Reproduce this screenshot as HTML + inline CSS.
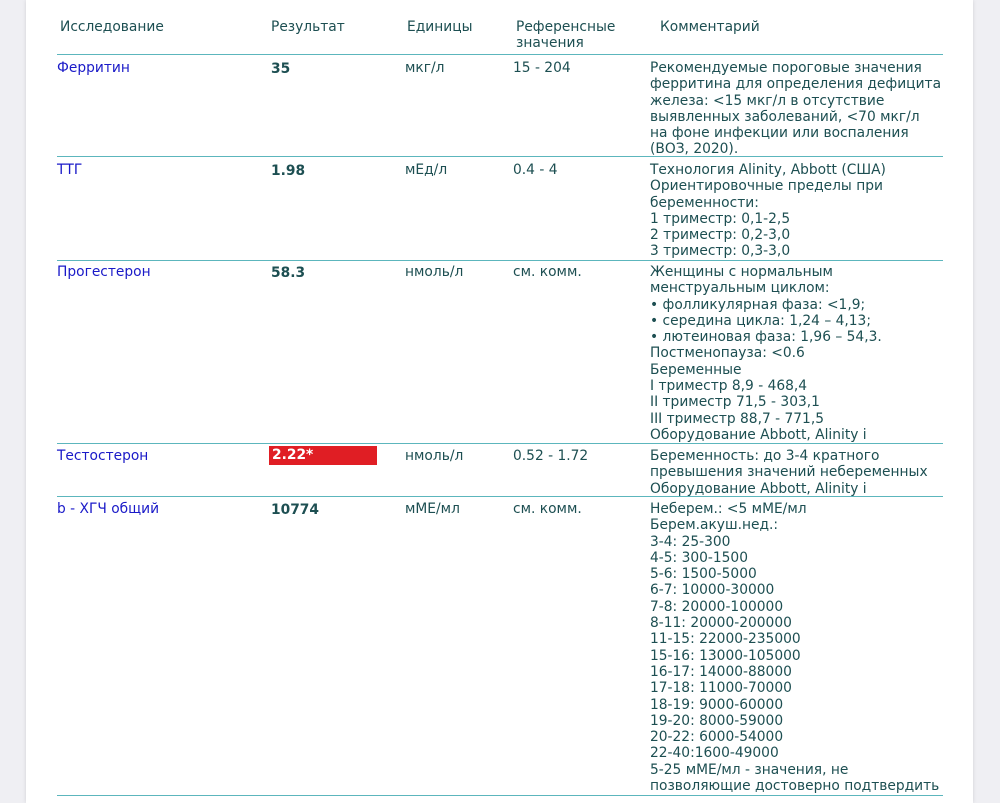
<!DOCTYPE html>
<html><head><meta charset="utf-8"><style>
html,body{margin:0;padding:0;}
body{width:1000px;height:803px;position:relative;overflow:hidden;background:#efeff3;font-family:"DejaVu Sans","Liberation Sans",sans-serif;font-size:13.8px;color:#1d4f52;}
.page{position:absolute;left:26px;top:0;width:947px;height:803px;background:#fff;box-shadow:0 0 4px rgba(0,0,0,0.12);}
.t{position:absolute;line-height:16.3px;white-space:nowrap;}
.n{color:#1a1ac8;}
.b{font-weight:bold;}
.hr{position:absolute;left:57px;width:886px;height:0;border-top:1.5px solid #5cb6bd;}
.red{position:absolute;left:269px;top:446px;width:108px;height:19px;background:#e01e24;color:#fff;font-weight:bold;line-height:19px;padding-left:3px;box-sizing:border-box;}
</style></head><body>
<div class="page"></div>
<div class="t" style="left:60px;top:19px">Исследование</div>
<div class="t" style="left:271px;top:19px">Результат</div>
<div class="t" style="left:407px;top:19px">Единицы</div>
<div class="t" style="left:516px;top:19px">Референсные<br>значения</div>
<div class="t" style="left:660px;top:19px">Комментарий</div>
<div class="hr" style="top:54px"></div>
<div class="hr" style="top:156px"></div>
<div class="hr" style="top:260px"></div>
<div class="hr" style="top:443px"></div>
<div class="hr" style="top:496px"></div>
<div class="hr" style="top:795px"></div>

<div class="t n" style="left:57px;top:60px">Ферритин</div>
<div class="t b" style="left:271px;top:61px">35</div>
<div class="t" style="left:405px;top:60px">мкг/л</div>
<div class="t" style="left:513px;top:60px">15 - 204</div>
<div class="t" style="left:650px;top:60px">Рекомендуемые пороговые значения<br>ферритина для определения дефицита<br>железа: &lt;15 мкг/л в отсутствие<br>выявленных заболеваний, &lt;70 мкг/л<br>на фоне инфекции или воспаления<br>(ВОЗ, 2020).</div>

<div class="t n" style="left:57px;top:162px">ТТГ</div>
<div class="t b" style="left:271px;top:163px">1.98</div>
<div class="t" style="left:405px;top:162px">мЕд/л</div>
<div class="t" style="left:513px;top:162px">0.4 - 4</div>
<div class="t" style="left:650px;top:162px">Технология Alinity, Abbott (США)<br>Ориентировочные пределы при<br>беременности:<br>1 триместр: 0,1-2,5<br>2 триместр: 0,2-3,0<br>3 триместр: 0,3-3,0</div>

<div class="t n" style="left:57px;top:264px">Прогестерон</div>
<div class="t b" style="left:271px;top:265px">58.3</div>
<div class="t" style="left:405px;top:264px">нмоль/л</div>
<div class="t" style="left:513px;top:264px">см. комм.</div>
<div class="t" style="left:650px;top:264px">Женщины с нормальным<br>менструальным циклом:<br>• фолликулярная фаза: &lt;1,9;<br>• середина цикла: 1,24 – 4,13;<br>• лютеиновая фаза: 1,96 – 54,3.<br>Постменопауза: &lt;0.6<br>Беременные<br>I триместр 8,9 - 468,4<br>II триместр 71,5 - 303,1<br>III триместр 88,7 - 771,5<br>Оборудование Abbott, Alinity i</div>

<div class="t n" style="left:57px;top:448px">Тестостерон</div>
<div class="red">2.22*</div>
<div class="t" style="left:405px;top:448px">нмоль/л</div>
<div class="t" style="left:513px;top:448px">0.52 - 1.72</div>
<div class="t" style="left:650px;top:448px">Беременность: до 3-4 кратного<br>превышения значений небеременных<br>Оборудование Abbott, Alinity i</div>

<div class="t n" style="left:57px;top:501px">b - ХГЧ общий</div>
<div class="t b" style="left:271px;top:502px">10774</div>
<div class="t" style="left:405px;top:501px">мМЕ/мл</div>
<div class="t" style="left:513px;top:501px">см. комм.</div>
<div class="t" style="left:650px;top:501px">Неберем.: &lt;5 мМЕ/мл<br>Берем.акуш.нед.:<br>3-4: 25-300<br>4-5: 300-1500<br>5-6: 1500-5000<br>6-7: 10000-30000<br>7-8: 20000-100000<br>8-11: 20000-200000<br>11-15: 22000-235000<br>15-16: 13000-105000<br>16-17: 14000-88000<br>17-18: 11000-70000<br>18-19: 9000-60000<br>19-20: 8000-59000<br>20-22: 6000-54000<br>22-40:1600-49000<br>5-25 мМЕ/мл - значения, не<br>позволяющие достоверно подтвердить</div>
</body></html>
